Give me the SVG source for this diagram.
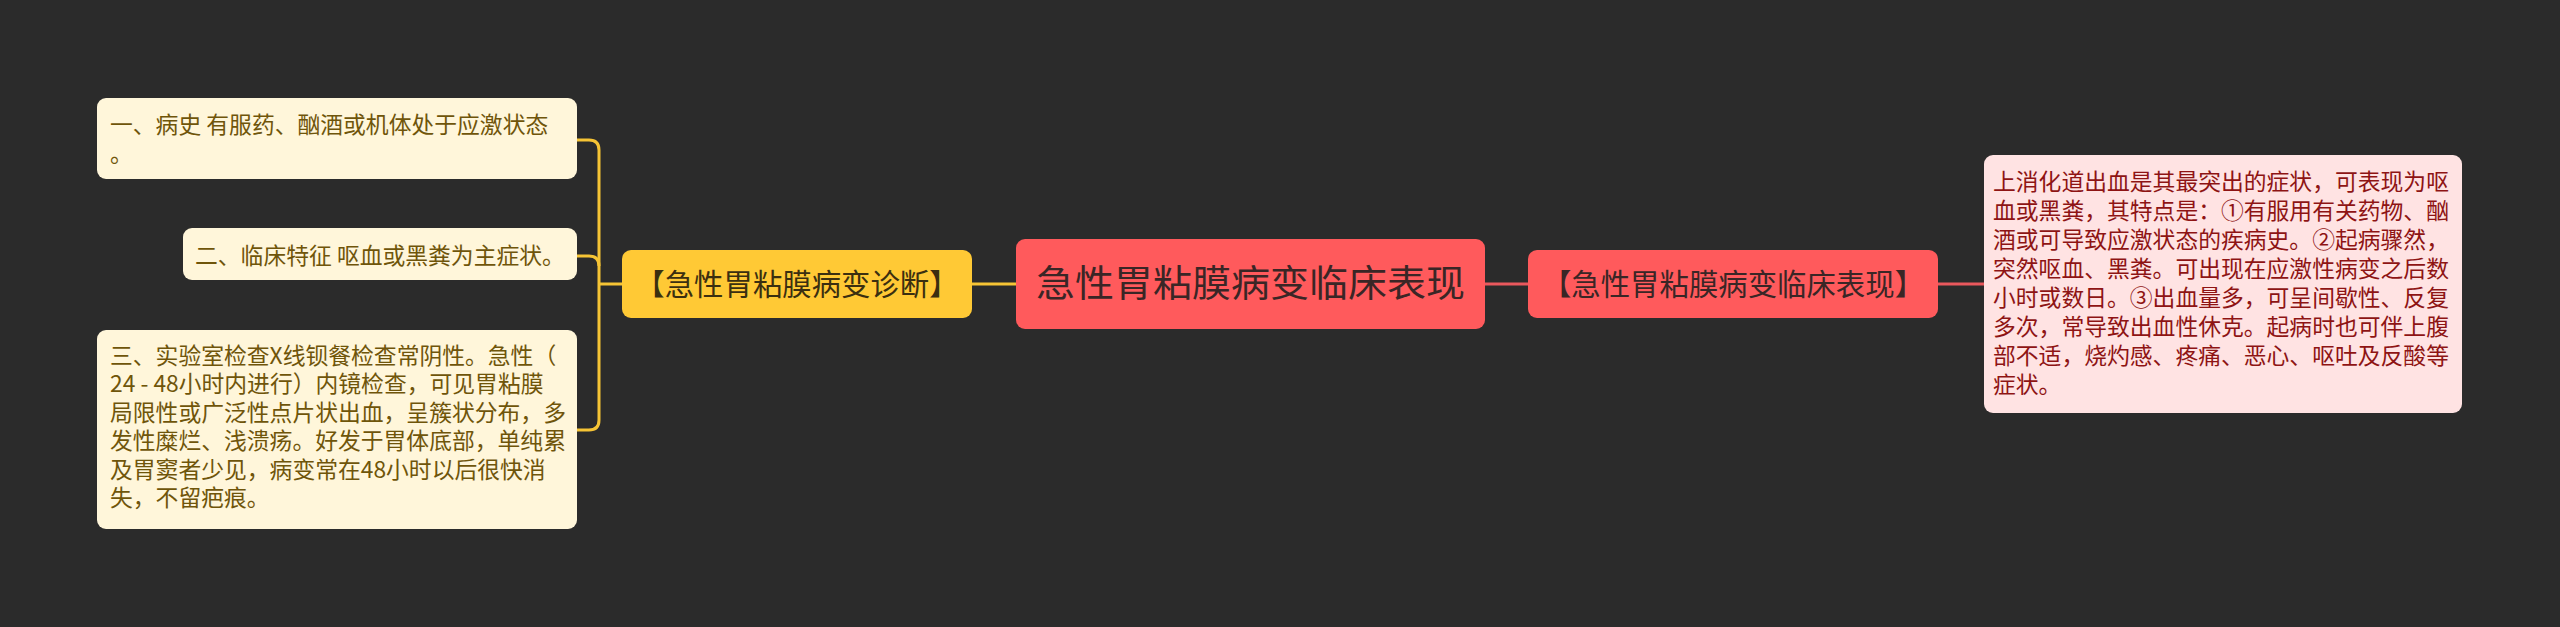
<svg xmlns="http://www.w3.org/2000/svg" width="2560" height="627" viewBox="0 0 2560 627">
<style>
.t{font-family:"Noto Sans CJK SC","Noto Sans",sans-serif}
.leaf{fill:#fff6da}
.leaft{font-size:22.8px;fill:#6f550a}
.pink{fill:#ffe3e3}
.pinkt{font-size:22.8px;fill:#8e1414}
.yc{fill:none;stroke:#f6c435;stroke-width:3}
.rc{fill:none;stroke:#e9585d;stroke-width:3}
</style>
<rect width="2560" height="627" fill="#2b2b2b"/>
<g id="connectors">
<path class="yc" d="M577,140 H589 Q599,140 599,150 V420 Q599,430 589,430 H577"/>
<path class="yc" d="M577,256 H589 Q599,256 599,266"/>
<path class="yc" d="M599,284 H622"/>
<path class="yc" d="M972,284 H1016"/>
<path class="rc" d="M1485,284 H1528"/>
<path class="rc" d="M1938,284 H1985"/>
</g>
<g id="box1">
<rect class="leaf" x="97" y="98" width="480" height="81" rx="9"/>
<text class="t leaft" x="110" y="133">一、病史 有服药、酗酒或机体处于应激状态</text>
<text class="t leaft" x="110" y="162">。</text>
</g>
<g id="box2">
<rect class="leaf" x="183" y="228" width="394" height="52" rx="9"/>
<text class="t leaft" x="195" y="264">二、临床特征 呕血或黑粪为主症状。</text>
</g>
<g id="box3">
<rect class="leaf" x="97" y="330" width="480" height="199" rx="9"/>
<text class="t leaft" x="110" y="364">三、实验室检查X线钡餐检查常阴性。急性（</text>
<text class="t leaft" x="110" y="392.4">24 - 48小时内进行）内镜检查，可见胃粘膜</text>
<text class="t leaft" x="110" y="420.8">局限性或广泛性点片状出血，呈簇状分布，多</text>
<text class="t leaft" x="110" y="449.2">发性糜烂、浅溃疡。好发于胃体底部，单纯累</text>
<text class="t leaft" x="110" y="477.6">及胃窦者少见，病变常在48小时以后很快消</text>
<text class="t leaft" x="110" y="506">失，不留疤痕。</text>
</g>
<g id="diagnosis">
<rect x="622" y="250" width="350" height="68" rx="9" fill="#ffc935"/>
<text class="t" x="797" y="295" font-size="29.4" fill="#3b2f10" text-anchor="middle">【急性胃粘膜病变诊断】</text>
</g>
<g id="main">
<rect x="1016" y="239" width="469" height="90" rx="9" fill="#ff5a5c"/>
<text class="t" x="1036" y="297" font-size="37" fill="#3a2626" textLength="429" lengthAdjust="spacingAndGlyphs">急性胃粘膜病变临床表现</text>
</g>
<g id="clinical">
<rect x="1528" y="250" width="410" height="68" rx="9" fill="#ff5a5c"/>
<text class="t" x="1733" y="295" font-size="29.4" fill="#3a2626" text-anchor="middle">【急性胃粘膜病变临床表现】</text>
</g>
<g id="detail">
<rect class="pink" x="1984" y="155" width="478" height="258" rx="9"/>
<text class="t pinkt" x="1993" y="190">上消化道出血是其最突出的症状，可表现为呕</text>
<text class="t pinkt" x="1993" y="219">血或黑粪，其特点是：①有服用有关药物、酗</text>
<text class="t pinkt" x="1993" y="248">酒或可导致应激状态的疾病史。②起病骤然，</text>
<text class="t pinkt" x="1993" y="277">突然呕血、黑粪。可出现在应激性病变之后数</text>
<text class="t pinkt" x="1993" y="306">小时或数日。③出血量多，可呈间歇性、反复</text>
<text class="t pinkt" x="1993" y="335">多次，常导致出血性休克。起病时也可伴上腹</text>
<text class="t pinkt" x="1993" y="364">部不适，烧灼感、疼痛、恶心、呕吐及反酸等</text>
<text class="t pinkt" x="1993" y="393">症状。</text>
</g>
</svg>
